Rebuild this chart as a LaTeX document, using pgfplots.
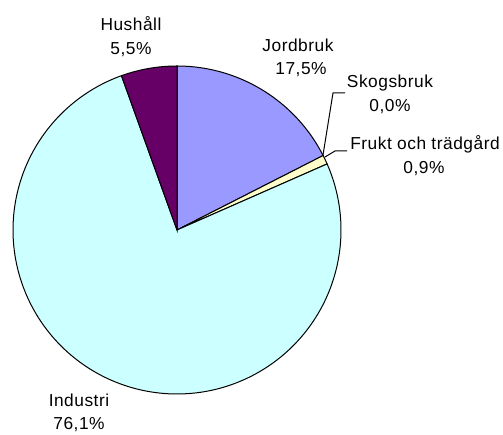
\documentclass[border=0pt]{standalone}
\usepackage{pgfplots}
\usepackage{pgfplotstable}
\pgfplotsset{compat=1.18}
\usepackage{fontspec}
\setmainfont{Liberation Sans}[LetterSpace=3]
\definecolor{jord}{HTML}{9999FF}
\definecolor{frukt}{HTML}{FFFFCC}
\definecolor{indu}{HTML}{CCFFFF}
\definecolor{hush}{HTML}{660066}
\pgfplotstableread{
name value
Jordbruk 17.5
Skogsbruk 0.0
Frukt 0.9
Industri 76.1
Hushall 5.5
}\piedata
\tikzset{lab/.style={font=\fontsize{13}{18}\selectfont, anchor=base, inner sep=0pt, text=black}}
\begin{document}
\begin{tikzpicture}
\pgfplotstablegetelem{0}{value}\of\piedata \let\vJ\pgfplotsretval
\pgfplotstablegetelem{1}{value}\of\piedata \let\vS\pgfplotsretval
\pgfplotstablegetelem{2}{value}\of\piedata \let\vF\pgfplotsretval
\pgfplotstablegetelem{3}{value}\of\piedata \let\vI\pgfplotsretval
\pgfplotstablegetelem{4}{value}\of\piedata \let\vH\pgfplotsretval
\pgfmathsetmacro\aA{90-3.6*\vJ}
\pgfmathsetmacro\aB{\aA-3.6*\vS}
\pgfmathsetmacro\aC{\aB-3.6*\vF}
\pgfmathsetmacro\aD{\aC-3.6*\vI}
\pgfmathsetmacro\aE{\aD-3.6*\vH}
\begin{axis}[
  scale only axis, width=377.25pt, height=326.25pt,
  xmin=0, xmax=503, ymin=0, ymax=435,
  hide axis, clip=false,
]
\addplot[fill=jord, draw=black, line width=0.75pt, domain=\aA:90, samples=60, variable=\t]
  ({177+164*cos(\t)},{205+164*sin(\t)}) -- (axis cs:177,205) -- cycle;
\addplot[fill=frukt, draw=black, line width=0.75pt, domain=\aC:\aB, samples=10, variable=\t]
  ({177+164*cos(\t)},{205+164*sin(\t)}) -- (axis cs:177,205) -- cycle;
\addplot[fill=indu, draw=black, line width=0.75pt, domain=\aD:\aC, samples=240, variable=\t]
  ({177+164*cos(\t)},{205+164*sin(\t)}) -- (axis cs:177,205) -- cycle;
\addplot[fill=hush, draw=black, line width=0.75pt, domain=\aE:\aD, samples=30, variable=\t]
  ({177+164*cos(\t)},{205+164*sin(\t)}) -- (axis cs:177,205) -- cycle;
% leader lines
\addplot[black, line width=0.75pt] coordinates {(323,280) (333,342) (345,342)};
\addplot[black, line width=0.75pt] coordinates {(325,278) (335,284) (347,284)};
% labels
\node[lab] at (axis cs:131,404) {Hushåll};
\node[lab] at (axis cs:131,380) {5,5\%};
\node[lab] at (axis cs:298,383) {Jordbruk};
\node[lab] at (axis cs:301,360) {17,5\%};
\node[lab] at (axis cs:390,347) {Skogsbruk};
\node[lab] at (axis cs:390,323) {0,0\%};
\node[lab] at (axis cs:425,285) {Frukt och trädgård};
\node[lab] at (axis cs:424,261) {0,9\%};
\node[lab] at (axis cs:79,28) {Industri};
\node[lab] at (axis cs:79,5) {76,1\%};
\end{axis}
\pgfresetboundingbox
\path (current axis.south west) rectangle (current axis.north east);
\end{tikzpicture}
\end{document}
